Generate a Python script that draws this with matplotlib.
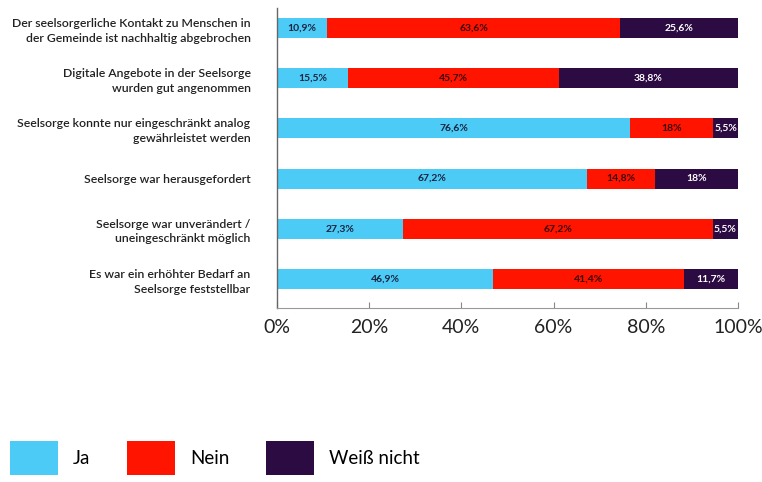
import numpy as np
import matplotlib.pyplot as plt

# Umfrage: Seelsorge in der Pandemie
statements = [
    'Der seelsorgerliche Kontakt zu Menschen in\nder Gemeinde ist nachhaltig abgebrochen',
    'Digitale Angebote in der Seelsorge\nwurden gut angenommen',
    'Seelsorge konnte nur eingeschränkt analog\ngewährleistet werden',
    'Seelsorge war herausgefordert',
    'Seelsorge war unverändert /\nuneingeschränkt möglich',
    'Es war ein erhöhter Bedarf an\nSeelsorge feststellbar',
]
ja = [10.9, 15.5, 76.6, 67.2, 27.3, 46.9]
nein = [63.6, 45.7, 18.0, 14.8, 67.2, 41.4]
weiss_nicht = [25.6, 38.8, 5.5, 18.0, 5.5, 11.7]

answers = ['Ja', 'Nein', 'Weiß nicht']
colors = ['#4ccbf7', '#ff1400', '#2c0a42']
text_colors = ['#1b2540', '#3b0606', 'white']

plt.rcParams['font.family'] = ['Lato', 'DejaVu Sans']


def pct(v):
    # German decimal comma, no trailing ",0"
    s = f'{v:.1f}'.replace('.', ',')
    return (s[:-2] if s.endswith(',0') else s) + '%'


fig = plt.figure(figsize=(7.62, 4.82), dpi=100)
ax = fig.add_axes([277 / 762, 1 - 308 / 482, 461 / 762, 300 / 482])

y = np.arange(len(statements))
left = np.zeros(len(statements))
handles = []
for name, vals, col, tcol in zip(answers, [ja, nein, weiss_nicht], colors, text_colors):
    vals = np.array(vals)
    bars = ax.barh(y, vals, left=left, height=0.4, color=col, label=name)
    handles.append(bars)
    for yi, l, v in zip(y, left, vals):
        ax.text(l + v / 2, yi, pct(v), ha='center', va='center',
                fontsize=7.5, fontweight='bold', color=tcol)
    left += vals

ax.set_xlim(0, 100)
ax.set_ylim(5.58, -0.4)
ax.set_yticks(y)
ax.set_yticklabels(statements, fontsize=8.8, fontweight='semibold',
                   color='#222222', linespacing=1.4)
ax.tick_params(axis='y', length=0, pad=19)

ax.set_xticks(np.arange(0, 101, 20))
ax.set_xticklabels([f'{t}%' for t in range(0, 101, 20)], fontsize=14, color='#222222')
ax.tick_params(axis='x', direction='in', length=4, width=0.8, color='#888888', pad=8)

for s in ['top', 'right']:
    ax.spines[s].set_visible(False)
ax.spines['left'].set_color('#666666')
ax.spines['bottom'].set_color('#999999')
ax.spines['left'].set_linewidth(1.0)
ax.spines['bottom'].set_linewidth(0.8)

fig.legend(handles=handles, labels=answers, loc='upper left',
           bbox_to_anchor=(10 / 762, 1 - 441 / 482), ncol=3, frameon=False,
           fontsize=13.5, handlelength=2.56, handleheight=2.4, handletextpad=0.8,
           columnspacing=1.95, borderpad=0, borderaxespad=0)

fig.savefig('out.png', dpi=100, facecolor='white')
